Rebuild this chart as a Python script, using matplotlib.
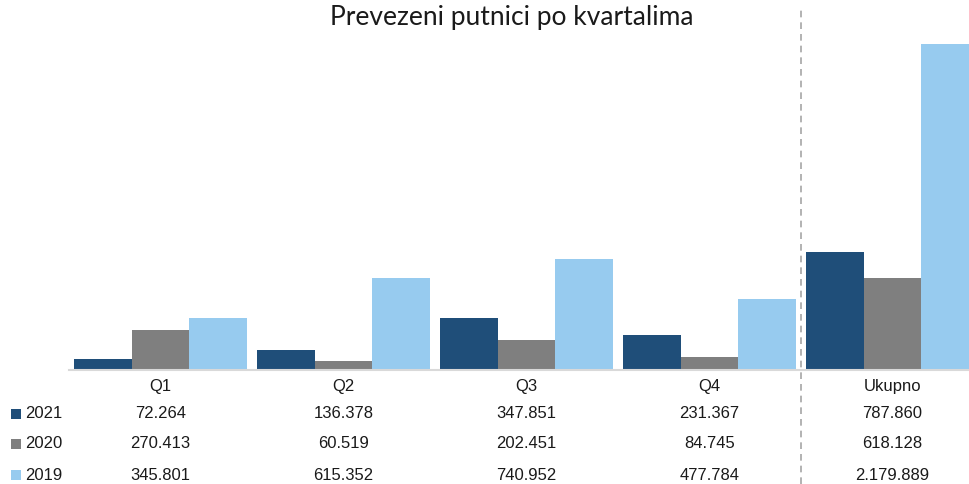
import matplotlib
matplotlib.use("Agg")
import matplotlib.pyplot as plt
from matplotlib.lines import Line2D
import matplotlib.transforms as mtransforms
import numpy as np

categories = ["Q1", "Q2", "Q3", "Q4", "Ukupno"]
years = ["2021", "2020", "2019"]
v2021 = [72264, 136378, 347851, 231367, 787860]
v2020 = [270413, 60519, 202451, 84745, 618128]
v2019 = [345801, 615352, 740952, 477784, 2179889]
labels2021 = ["72.264", "136.378", "347.851", "231.367", "787.860"]
labels2020 = ["270.413", "60.519", "202.451", "84.745", "618.128"]
labels2019 = ["345.801", "615.352", "740.952", "477.784", "2.179.889"]
title = "Prevezeni putnici po kvartalima"

colors = ["#1F4E79", "#7F7F7F", "#97CBEF"]
W, H = 969, 484
fig = plt.figure(figsize=(W / 100, H / 100), dpi=100)

ax_left, ax_right, ax_bottom, ax_top = 69, 969, 370, 10
ax = fig.add_axes([ax_left / W, 1 - ax_bottom / H, (ax_right - ax_left) / W, (ax_bottom - ax_top) / H])
catw = 183.0
x = np.arange(len(categories))
bw = 57.5 / catw
series = [v2021, v2020, v2019]
for i, (vals, c) in enumerate(zip(series, colors)):
    ax.bar(x + (i - 1) * bw, vals, width=bw, color=c, linewidth=0)
ax.set_xlim(-0.5, -0.5 + (ax_right - ax_left) / catw)
ymax = max(v2019) * (ax_bottom - ax_top) / (ax_bottom - 44)
ax.set_ylim(0, ymax)
for s in ["top", "right", "left"]:
    ax.spines[s].set_visible(False)
ax.spines["bottom"].set_color("#D9D9D9")
ax.spines["bottom"].set_linewidth(1.5)
ax.set_xticks([])
ax.set_yticks([])

fig.text(512 / W, 1 - 25 / H, title, ha="center", va="baseline", fontsize=19,
         family=["Lato", "DejaVu Sans"], color="#1a1a1a")

# dashed separator
trans = mtransforms.blended_transform_factory(ax.transData, fig.transFigure)
fig.add_artist(Line2D([3.5, 3.5], [0, 1 - 10 / H], transform=trans, color="#A6A6A6",
                      linestyle=(0, (4, 3)), linewidth=1.2))

tfont = dict(family=["Liberation Sans", "DejaVu Sans"], fontsize=12, color="#1a1a1a")
ttrans = mtransforms.blended_transform_factory(ax.transData, fig.transFigure)
for xi, cat in zip(x, categories):
    fig.text(xi, 1 - 386 / H, cat, ha="center", va="center", transform=ttrans, **tfont)
rows_y = [414, 444, 475]
for yy, yr, labs, c in zip(rows_y, years, [labels2021, labels2020, labels2019], colors):
    fig.patches.append(plt.Rectangle((11 / W, 1 - (yy + 5) / H), 10 / W, 10 / H,
                                     transform=fig.transFigure, color=c, linewidth=0))
    fig.text(25 / W, 1 - yy / H, yr, ha="left", va="center", **tfont)
    for xi, lab in zip(x, labs):
        fig.text(xi, 1 - yy / H, lab, ha="center", va="center", transform=ttrans, **tfont)

fig.savefig("out.png", dpi=100)
